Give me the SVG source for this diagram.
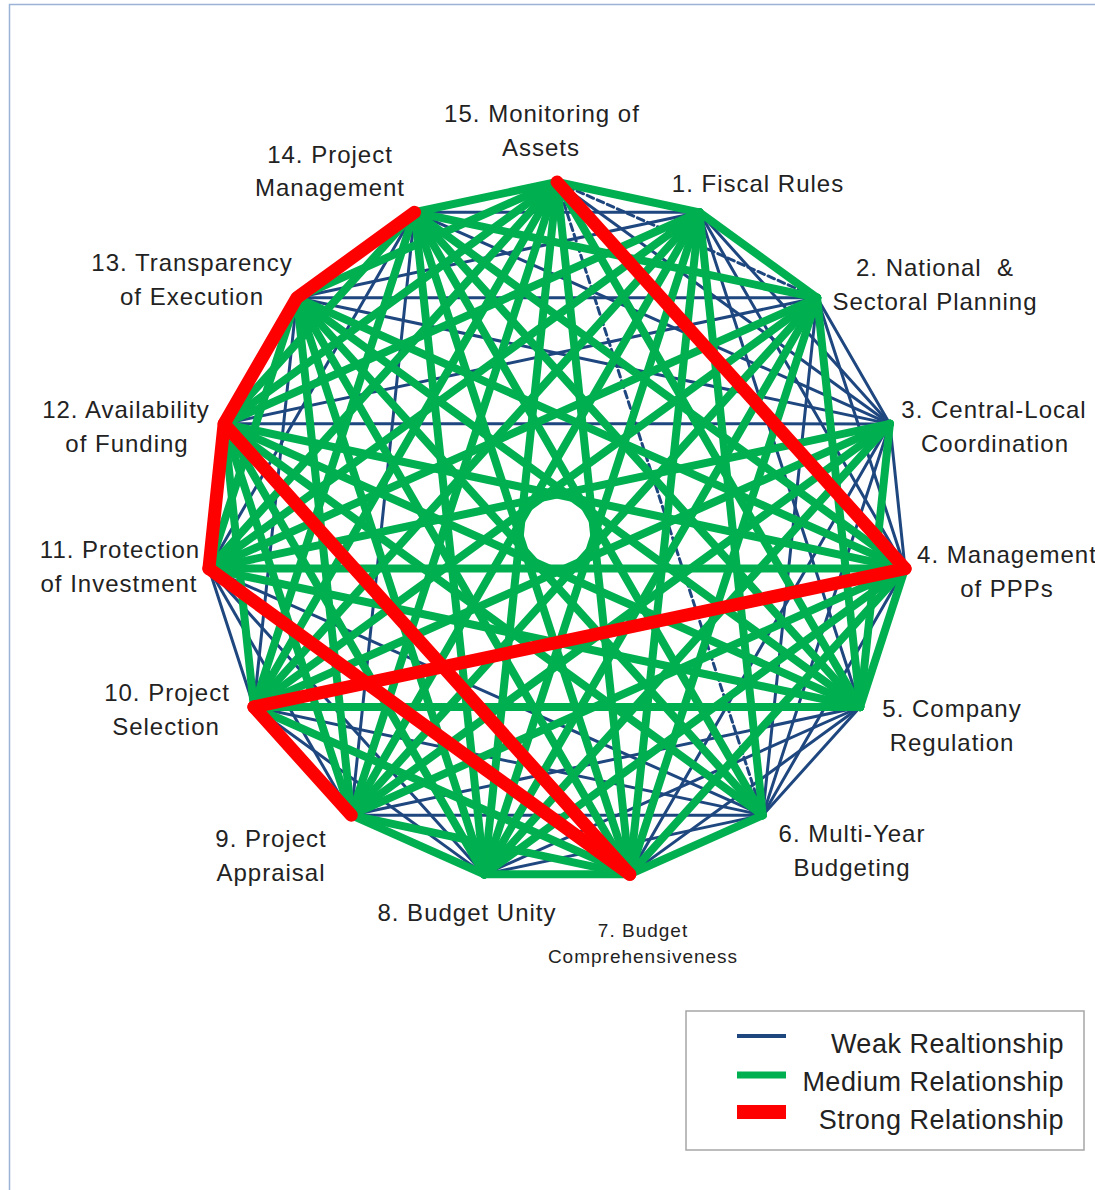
<svg xmlns="http://www.w3.org/2000/svg" xmlns:xlink="http://www.w3.org/1999/xlink" width="1095" height="1190" viewBox="0 0 1095 1190">
<style>
.w{stroke:#1f477f;stroke-width:3;stroke-linecap:round;fill:none}
.d{stroke-dasharray:7 4}
.g{stroke:#00b050;stroke-width:8;stroke-linecap:round;fill:none}
.r{stroke:#ff0000;stroke-width:13;stroke-linecap:round;fill:none}
text{font-family:"Liberation Sans",Arial,sans-serif;font-size:24px;fill:#222;text-anchor:middle;letter-spacing:1px}
.s{font-size:19px;letter-spacing:1px}
.lg{font-size:27px;text-anchor:end;letter-spacing:0.5px}
</style>
<defs>
<line id="c1" x1="557" y1="182" x2="699.4" y2="212.3"/>
<line id="c2" x1="557" y1="182" x2="817.1" y2="297.8"/>
<line id="c3" x1="557" y1="182" x2="889.9" y2="423.8"/>
<line id="c4" x1="557" y1="182" x2="905.1" y2="568.6"/>
<line id="c5" x1="557" y1="182" x2="860.1" y2="707"/>
<line id="c6" x1="557" y1="182" x2="762.7" y2="815.2"/>
<line id="c7" x1="557" y1="182" x2="629.8" y2="874.3"/>
</defs>
<rect x="9.5" y="4.5" width="1100" height="1200" fill="#fff" stroke="#9db3d6" stroke-width="1.5"/>
<g id="connectors">
<g id="weak">
<use href="#c2" class="w d"/>
<use href="#c6" class="w d"/>
<use href="#c3" class="w"/>
<use href="#c2" class="w" transform="rotate(24 557 532)"/>
<use href="#c3" class="w" transform="rotate(24 557 532)"/>
<use href="#c4" class="w" transform="rotate(24 557 532)"/>
<use href="#c3" class="w" transform="rotate(312 557 532)"/>
<use href="#c2" class="w" transform="rotate(336 557 532)"/>
<use href="#c1" class="w" transform="rotate(48 557 532)"/>
<use href="#c2" class="w" transform="rotate(48 557 532)"/>
<use href="#c4" class="w" transform="rotate(48 557 532)"/>
<use href="#c5" class="w" transform="rotate(288 557 532)"/>
<use href="#c4" class="w" transform="rotate(312 557 532)"/>
<use href="#c1" class="w" transform="rotate(72 557 532)"/>
<use href="#c3" class="w" transform="rotate(72 557 532)"/>
<use href="#c4" class="w" transform="rotate(72 557 532)"/>
<use href="#c6" class="w" transform="rotate(288 557 532)"/>
<use href="#c5" class="w" transform="rotate(312 557 532)"/>
<use href="#c4" class="w" transform="rotate(336 557 532)"/>
<use href="#c2" class="w" transform="rotate(96 557 532)"/>
<use href="#c1" class="w" transform="rotate(120 557 532)"/>
<use href="#c2" class="w" transform="rotate(120 557 532)"/>
<use href="#c3" class="w" transform="rotate(120 557 532)"/>
<use href="#c4" class="w" transform="rotate(120 557 532)"/>
<use href="#c2" class="w" transform="rotate(144 557 532)"/>
<use href="#c3" class="w" transform="rotate(144 557 532)"/>
<use href="#c4" class="w" transform="rotate(144 557 532)"/>
<use href="#c5" class="w" transform="rotate(144 557 532)"/>
<use href="#c2" class="w" transform="rotate(192 557 532)"/>
<use href="#c3" class="w" transform="rotate(192 557 532)"/>
<use href="#c2" class="w" transform="rotate(216 557 532)"/>
<use href="#c5" class="w" transform="rotate(216 557 532)"/>
<use href="#c1" class="w" transform="rotate(240 557 532)"/>
<use href="#c3" class="w" transform="rotate(240 557 532)"/>
<use href="#c3" class="w" transform="rotate(264 557 532)"/>
</g>
<g id="medium">
<use href="#c1" class="g"/>
<use href="#c5" class="g"/>
<use href="#c7" class="g"/>
<use href="#c7" class="g" transform="rotate(192 557 532)"/>
<use href="#c6" class="g" transform="rotate(216 557 532)"/>
<use href="#c5" class="g" transform="rotate(240 557 532)"/>
<use href="#c4" class="g" transform="rotate(264 557 532)"/>
<use href="#c3" class="g" transform="rotate(288 557 532)"/>
<use href="#c2" class="g" transform="rotate(312 557 532)"/>
<use href="#c1" class="g" transform="rotate(336 557 532)"/>
<use href="#c1" class="g" transform="rotate(24 557 532)"/>
<use href="#c5" class="g" transform="rotate(24 557 532)"/>
<use href="#c6" class="g" transform="rotate(24 557 532)"/>
<use href="#c7" class="g" transform="rotate(24 557 532)"/>
<use href="#c7" class="g" transform="rotate(216 557 532)"/>
<use href="#c6" class="g" transform="rotate(240 557 532)"/>
<use href="#c5" class="g" transform="rotate(264 557 532)"/>
<use href="#c4" class="g" transform="rotate(288 557 532)"/>
<use href="#c3" class="g" transform="rotate(48 557 532)"/>
<use href="#c5" class="g" transform="rotate(48 557 532)"/>
<use href="#c6" class="g" transform="rotate(48 557 532)"/>
<use href="#c7" class="g" transform="rotate(48 557 532)"/>
<use href="#c7" class="g" transform="rotate(240 557 532)"/>
<use href="#c6" class="g" transform="rotate(264 557 532)"/>
<use href="#c3" class="g" transform="rotate(336 557 532)"/>
<use href="#c2" class="g" transform="rotate(72 557 532)"/>
<use href="#c5" class="g" transform="rotate(72 557 532)"/>
<use href="#c6" class="g" transform="rotate(72 557 532)"/>
<use href="#c7" class="g" transform="rotate(72 557 532)"/>
<use href="#c7" class="g" transform="rotate(264 557 532)"/>
<use href="#c1" class="g" transform="rotate(96 557 532)"/>
<use href="#c3" class="g" transform="rotate(96 557 532)"/>
<use href="#c4" class="g" transform="rotate(96 557 532)"/>
<use href="#c5" class="g" transform="rotate(96 557 532)"/>
<use href="#c7" class="g" transform="rotate(96 557 532)"/>
<use href="#c7" class="g" transform="rotate(288 557 532)"/>
<use href="#c6" class="g" transform="rotate(312 557 532)"/>
<use href="#c5" class="g" transform="rotate(336 557 532)"/>
<use href="#c5" class="g" transform="rotate(120 557 532)"/>
<use href="#c6" class="g" transform="rotate(120 557 532)"/>
<use href="#c7" class="g" transform="rotate(120 557 532)"/>
<use href="#c7" class="g" transform="rotate(312 557 532)"/>
<use href="#c6" class="g" transform="rotate(336 557 532)"/>
<use href="#c1" class="g" transform="rotate(144 557 532)"/>
<use href="#c6" class="g" transform="rotate(144 557 532)"/>
<use href="#c7" class="g" transform="rotate(144 557 532)"/>
<use href="#c7" class="g" transform="rotate(336 557 532)"/>
<use href="#c1" class="g" transform="rotate(168 557 532)"/>
<use href="#c2" class="g" transform="rotate(168 557 532)"/>
<use href="#c3" class="g" transform="rotate(168 557 532)"/>
<use href="#c6" class="g" transform="rotate(168 557 532)"/>
<use href="#c7" class="g" transform="rotate(168 557 532)"/>
<use href="#c1" class="g" transform="rotate(192 557 532)"/>
<use href="#c4" class="g" transform="rotate(192 557 532)"/>
<use href="#c5" class="g" transform="rotate(192 557 532)"/>
<use href="#c6" class="g" transform="rotate(192 557 532)"/>
<use href="#c3" class="g" transform="rotate(216 557 532)"/>
<use href="#c4" class="g" transform="rotate(216 557 532)"/>
<use href="#c2" class="g" transform="rotate(240 557 532)"/>
<use href="#c4" class="g" transform="rotate(240 557 532)"/>
<use href="#c2" class="g" transform="rotate(264 557 532)"/>
<use href="#c2" class="g" transform="rotate(288 557 532)"/>
</g>
<g id="strong">
<use href="#c4" class="r"/>
<use href="#c6" class="r" transform="rotate(96 557 532)"/>
<use href="#c1" class="r" transform="rotate(216 557 532)"/>
<use href="#c4" class="r" transform="rotate(168 557 532)"/>
<use href="#c5" class="r" transform="rotate(168 557 532)"/>
<polyline points="414.6,212.3 296.9,297.8 224.1,423.8 208.9,568.6" class="r" stroke-linejoin="round"/>
</g>
</g>
<g id="n15"><text x="542" y="122">15. Monitoring of</text><text x="541" y="156">Assets</text></g>
<g id="n1"><text x="758" y="192">1. Fiscal Rules</text></g>
<g id="n2"><text x="935" y="276" xml:space="preserve">2. National  &amp;</text><text x="935" y="310">Sectoral Planning</text></g>
<g id="n3"><text x="994" y="418">3. Central-Local</text><text x="995" y="452">Coordination</text></g>
<g id="n4"><text x="1007" y="563">4. Management</text><text x="1007" y="597">of PPPs</text></g>
<g id="n5"><text x="952" y="717">5. Company</text><text x="952" y="751">Regulation</text></g>
<g id="n6"><text x="852" y="842">6. Multi-Year</text><text x="852" y="876">Budgeting</text></g>
<g id="n7"><text class="s" x="643" y="937">7. Budget</text><text class="s" x="643" y="963">Comprehensiveness</text></g>
<g id="n8"><text x="467" y="921">8. Budget Unity</text></g>
<g id="n9"><text x="271" y="847">9. Project</text><text x="271" y="881">Appraisal</text></g>
<g id="n10"><text x="167" y="701">10. Project</text><text x="166" y="735">Selection</text></g>
<g id="n11"><text x="120" y="558">11. Protection</text><text x="119" y="592">of Investment</text></g>
<g id="n12"><text x="126" y="418">12. Availability</text><text x="127" y="452">of Funding</text></g>
<g id="n13"><text x="192" y="271">13. Transparency</text><text x="192" y="305">of Execution</text></g>
<g id="n14"><text x="330" y="163">14. Project</text><text x="330" y="196">Management</text></g>
<g id="legend">
<rect x="686" y="1011" width="398" height="139" fill="#fff" stroke="#a6a6a6" stroke-width="1.5"/>
<line x1="737" y1="1036" x2="786" y2="1036" stroke="#1f477f" stroke-width="4"/>
<line x1="737" y1="1075" x2="786" y2="1075" stroke="#00b050" stroke-width="7"/>
<line x1="737" y1="1112" x2="786" y2="1112" stroke="#ff0000" stroke-width="14"/>
<text class="lg" x="1064" y="1053">Weak Realtionship</text>
<text class="lg" x="1064" y="1091">Medium Relationship</text>
<text class="lg" x="1064" y="1129">Strong Relationship</text>
</g>
</svg>
